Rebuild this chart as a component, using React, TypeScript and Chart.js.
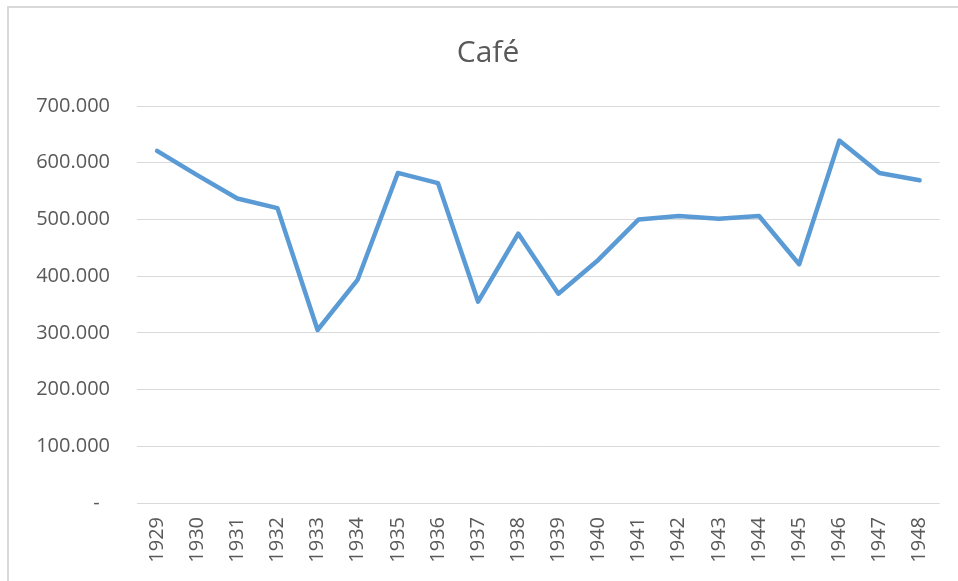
import React, { useEffect, useRef } from "react";
import { Chart, registerables } from "chart.js";

Chart.register(...registerables);

const TITLE = "Café";
const YEARS = ["1929", "1930", "1931", "1932", "1933", "1934", "1935", "1936", "1937", "1938", "1939", "1940", "1941", "1942", "1943", "1944", "1945", "1946", "1947", "1948"];
const CAFE = [621000, 578000, 537000, 520000, 305000, 394000, 582000, 564000, 355000, 475000, 369000, 429000, 500000, 506000, 501000, 506000, 421000, 639000, 582000, 569000];
const Y_MIN = 0;
const Y_MAX = 700000;
const Y_STEP = 100000;

function fmt(v: number): string {
  if (v === 0) return "-  ";
  const s = Math.round(v).toString();
  return s.replace(/\B(?=(\d{3})+(?!\d))/g, ".");
}

export default function App() {
  const ref = useRef<HTMLCanvasElement | null>(null);
  useEffect(() => {
    document.body.style.overflow = "hidden";
    if (!ref.current) return;
    const font = "'Open Sans', sans-serif";
    const chart = new Chart(ref.current, {
      type: "line",
      data: {
        labels: YEARS,
        datasets: [
          {
            label: TITLE,
            data: CAFE,
            borderColor: "#5b9bd5",
            backgroundColor: "#5b9bd5",
            borderWidth: 4.5,
            pointRadius: 0,
            pointHoverRadius: 0,
            tension: 0,
            borderJoinStyle: "round",
            borderCapStyle: "round",
            fill: false,
            yAxisID: "y",
          },
        ],
      },
      options: {
        responsive: false,
        animation: false,
        layout: { padding: { left: 9, right: 0, top: 0, bottom: 0 } },
        plugins: {
          legend: { display: false },
          tooltip: { enabled: false },
          title: {
            display: true,
            text: TITLE,
            color: "#595959",
            font: { family: font, size: 30, weight: "normal" },
            padding: { top: 27, bottom: 35 },
          },
        },
        scales: {
          x: {
            offset: true,
            grid: { display: false, drawTicks: false },
            border: { display: false },
            ticks: {
              color: "#595959",
              font: { family: font, size: 20 },
              minRotation: 90,
              maxRotation: 90,
              padding: 14,
              autoSkip: false,
            },
            afterFit: (s: any) => {
              s.height = 78;
            },
          },
          y: {
            min: Y_MIN,
            max: Y_MAX,
            grid: { color: "#d9d9d9", lineWidth: 1, drawTicks: false },
            border: { display: false },
            ticks: {
              stepSize: Y_STEP,
              color: "#595959",
              font: { family: font, size: 20 },
              padding: 27,
              callback: (v: any) => fmt(Number(v)),
            },
            afterFit: (s: any) => {
              s.width = 119;
            },
          },
          y2: {
            position: "right",
            min: Y_MIN,
            max: Y_MAX,
            grid: { display: false, drawTicks: false },
            border: { display: false },
            ticks: { display: false },
            afterFit: (s: any) => {
              s.width = 17;
            },
          },
        },
      },
    });
    return () => chart.destroy();
  }, []);
  return (
    <div
      style={{
        position: "absolute",
        left: 7,
        top: 6,
        width: 949,
        height: 573,
        borderTop: "2px solid #d9d9d9",
        borderLeft: "2px solid #d9d9d9",
        background: "#fff",
      }}
    >
      <canvas ref={ref} width={949} height={573} style={{ display: "block" }} />
    </div>
  );
}
